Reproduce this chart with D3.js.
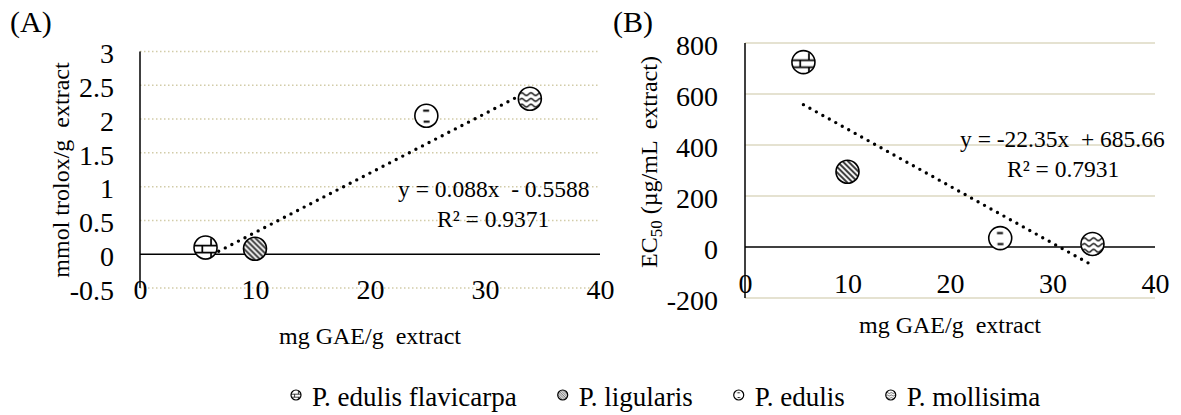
<!DOCTYPE html>
<html>
<head>
<meta charset="utf-8">
<script src="https://cdn.jsdelivr.net/npm/d3@7"></script>
<style>
  body { margin: 0; background: #fff; }
  svg text { font-family: "Liberation Serif", "Times New Roman", serif; fill: #000; white-space: pre; }
</style>
</head>
<body>
<svg id="chart" width="1181" height="415"></svg>
<script>
// values
const species = ["P. edulis flavicarpa", "P. ligularis", "P. edulis", "P. mollisima"];
const phenolics = [5.7, 10, 24.9, 33.9];      // mg GAE/g extract
const trolox = [0.1, 0.08, 2.05, 2.3];        // panel A, mmol trolox/g extract
const ec50 = [725, 295, 35, 12];              // panel B, EC50 ug/mL extract
const xTicks = [0, 10, 20, 30, 40];
const yTicksA = [-0.5, 0, 0.5, 1, 1.5, 2, 2.5, 3];
const yTicksB = [-200, 0, 200, 400, 600, 800];
const fitA = [0.088, -0.5588];
const fitB = [-22.35, 685.66];
const eqA = ["y = 0.088x  - 0.5588", "R² = 0.9371"];
const eqB = ["y = -22.35x  + 685.66", "R² = 0.7931"];

const svg = d3.select("#chart");
const defs = svg.append("defs");

// marker fills (excel pattern fills), drawn in marker box units so
// the big markers and the legend ones look the same
const pats = ["pBrick", "pDiag", "pDash", "pWave"];

function pattern(id) {
    const p = defs.append("pattern").attr("id", id)
        .attr("patternUnits", "objectBoundingBox")
        .attr("patternContentUnits", "objectBoundingBox")
        .attr("width", 1).attr("height", 1);
    p.append("rect").attr("width", 1).attr("height", 1).attr("fill", "#fff");
    return p;
}

pattern("pBrick").append("path")
    .attr("d", "M0 0.42H1M0 0.72H1M0.74 0.1V0.42M0.36 0.42V0.72M0.74 0.72V1")
    .attr("fill", "none").attr("stroke", "#000").attr("stroke-width", 0.075);

pattern("pDiag").append("path")
    .attr("d", [-0.96, -0.72, -0.48, -0.24, 0, 0.24, 0.48, 0.72, 0.96].map(c => `M${c} 0L${c + 1} 1`).join(""))
    .attr("stroke", "#333").attr("stroke-width", 0.085);

pattern("pDash").append("path")
    .attr("d", "M0.36 0.28H0.62M0.38 0.76H0.64")
    .attr("stroke", "#000").attr("stroke-width", 0.09);

pattern("pWave").append("path")
    .attr("d", [0.3, 0.55, 0.8].map(r => `M0.05 ${r}q0.1 -0.12 0.2 0t0.2 0t0.2 0t0.2 0t0.2 0`).join(""))
    .attr("fill", "none").attr("stroke", "#000").attr("stroke-width", 0.06);

function panel(opt) {
    const g = svg.append("g");
    const x = d3.scaleLinear().domain([0, 40]).range(opt.xRange);
    const y = d3.scaleLinear().domain(d3.extent(opt.yTicks)).range(opt.yRange);

    // gridlines
    g.selectAll(".grid")
        .data(opt.yTicks.filter(d => d !== 0))
        .join("line")
        .attr("class", "grid")
        .attr("x1", x(0)).attr("x2", x(40))
        .attr("y1", d => y(d)).attr("y2", d => y(d))
        .attr("stroke", opt.gridColor)
        .attr("stroke-width", opt.gridWidth)
        .attr("stroke-dasharray", opt.gridDash);

    // axes, labels only
    const ya = g.append("g")
        .attr("transform", `translate(${x(0)},0)`)
        .call(d3.axisLeft(y).tickValues(opt.yTicks).tickSize(0).tickPadding(opt.yPad).tickFormat(d => String(d)));
    const xa = g.append("g")
        .attr("transform", `translate(0,${y(0)})`)
        .call(d3.axisBottom(x).tickValues(xTicks).tickSize(0).tickPadding(opt.xPad).tickFormat(d => String(d)));
    [ya, xa].forEach(a => {
        a.select(".domain").remove();
        a.selectAll("text").attr("font-size", 28).attr("fill", "#000")
            .style("font-family", '"Liberation Serif", serif');
    });
    ya.selectAll("text").attr("dy", "0.4em");

    g.append("line")
        .attr("x1", x(0)).attr("x2", x(0))
        .attr("y1", y.range()[0]).attr("y2", y.range()[1])
        .attr("stroke", "#000").attr("stroke-width", 1.5);
    g.append("line")
        .attr("x1", x(0)).attr("x2", x(40))
        .attr("y1", y(0)).attr("y2", y(0))
        .attr("stroke", "#000").attr("stroke-width", 1.5);

    // trendline over the data range
    const x0 = d3.min(phenolics), x1 = d3.max(phenolics);
    g.append("line")
        .attr("x1", x(x0)).attr("y1", y(opt.fit[0] * x0 + opt.fit[1]))
        .attr("x2", x(x1)).attr("y2", y(opt.fit[0] * x1 + opt.fit[1]))
        .attr("stroke", "#000").attr("stroke-width", 3.4)
        .attr("stroke-linecap", "round").attr("stroke-dasharray", "0,7.4");

    // points
    g.selectAll(".pt")
        .data(opt.values)
        .join("circle")
        .attr("class", "pt")
        .attr("cx", (d, i) => x(phenolics[i]))
        .attr("cy", d => y(d))
        .attr("r", 11.5)
        .attr("fill", (d, i) => `url(#${pats[i]})`)
        .attr("stroke", "#000").attr("stroke-width", 1.6);

    // equation
    opt.eq.forEach((t, i) => {
        g.append("text").attr("x", opt.eqPos[i][0]).attr("y", opt.eqPos[i][1])
            .attr("font-size", 23.5).text(t);
    });

    // titles
    g.append("text").attr("x", opt.label[1]).attr("y", opt.label[2])
        .attr("font-size", 30).text(opt.label[0]);
    g.append("text")
        .attr("x", (opt.xRange[0] + opt.xRange[1]) / 2).attr("y", opt.xTitleY)
        .attr("text-anchor", "middle").attr("font-size", 24)
        .text("mg GAE/g  extract");
    const yt = g.append("text")
        .attr("transform", `translate(${opt.yTitle[0]},${opt.yTitle[1]}) rotate(-90)`)
        .attr("text-anchor", "middle").attr("font-size", 24);
    opt.yTitleParts.forEach(part => {
        const ts = yt.append("tspan").text(part[0]);
        if (part[1]) ts.attr("font-size", 17).attr("dy", 5);
        else if (part[2]) ts.attr("dy", -5);
    });
}

panel({
    xRange: [140, 600], yRange: [288, 51.5], yTicks: yTicksA, values: trolox, fit: fitA,
    gridColor: "#d2cca8", gridWidth: 1.5, gridDash: "1.5,2.5",
    yPad: 26, xPad: 25,
    eq: eqA, eqPos: [[398, 197], [437, 227]],
    label: ["(A)", 10, 32], xTitleY: 344,
    yTitle: [69, 170], yTitleParts: [["mmol trolox/g  extract"]]
});

panel({
    xRange: [745, 1155], yRange: [298, 43], yTicks: yTicksB, values: ec50, fit: fitB,
    gridColor: "#dcd8c2", gridWidth: 1.3, gridDash: null,
    yPad: 27, xPad: 26,
    eq: eqB, eqPos: [[960, 147], [1007, 177]],
    label: ["(B)", 613, 32], xTitleY: 333,
    yTitle: [657, 162], yTitleParts: [["EC"], ["50", true], [" (µg/mL  extract)", false, true]]
});

// legend along the bottom
const leg = svg.append("g").attr("transform", "translate(296,395)");
let lx = 0;
species.forEach((s, i) => {
    const it = leg.append("g").attr("transform", `translate(${lx},0)`);
    it.append("circle").attr("r", 5).attr("fill", `url(#${pats[i]})`)
        .attr("stroke", "#000").attr("stroke-width", 1.2);
    const t = it.append("text").attr("x", 16).attr("y", 11).attr("font-size", 27).text(s);
    lx += 16 + t.node().getComputedTextLength() + 46;
});
</script>
</body>
</html>
